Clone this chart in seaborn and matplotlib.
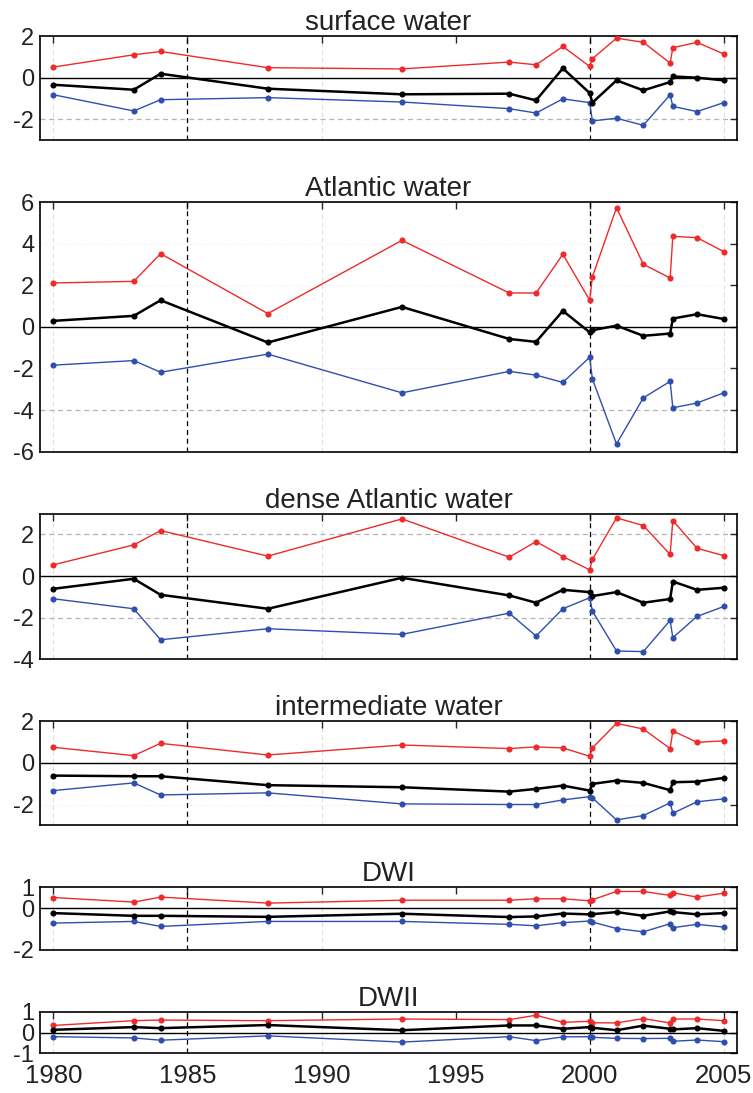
import numpy as np
import pandas as pd
import matplotlib
matplotlib.use("Agg")
import matplotlib.pyplot as plt
import seaborn as sns

# 観測年 (2000年と2003年は2回ずつ)
YEARS = [1980, 1983, 1984, 1988, 1993, 1997, 1998, 1999, 2000, 2000.1,
         2001, 2002, 2003, 2003.1, 2004, 2005]

TITLES = ["surface water", "Atlantic water", "dense Atlantic water",
          "intermediate water", "DWI", "DWII"]
YLIMS = [(-3, 2), (-6, 6), (-4, 3), (-3, 2), (-2, 1), (-1, 1)]
YTICKS = [[-2, 0, 2], [-6, -4, -2, 0, 2, 4, 6], [-4, -2, 0, 2], [-2, 0, 2], [-2, 0, 1], [-1, 0, 1]]
REF_LINES = [[-2], [-4], [-2, 2], [], [], []]

# 上側 (赤)
UPPER = [
    [0.51, 1.10, 1.26, 0.48, 0.42, 0.75, 0.62, 1.50, 0.54, 0.91, 1.90, 1.70, 0.70, 1.44, 1.70, 1.14],
    [2.11, 2.19, 3.52, 0.64, 4.16, 1.63, 1.63, 3.49, 1.28, 2.40, 5.73, 3.01, 2.35, 4.35, 4.29, 3.62],
    [0.54, 1.50, 2.19, 0.96, 2.75, 0.91, 1.66, 0.94, 0.30, 0.80, 2.80, 2.43, 1.04, 2.67, 1.34, 0.98],
    [0.75, 0.35, 0.94, 0.38, 0.86, 0.69, 0.77, 0.72, 0.32, 0.72, 1.90, 1.63, 0.69, 1.54, 0.99, 1.06],
    [0.51, 0.29, 0.53, 0.24, 0.38, 0.38, 0.45, 0.45, 0.35, 0.40, 0.80, 0.80, 0.61, 0.74, 0.53, 0.72],
    [0.34, 0.57, 0.60, 0.57, 0.65, 0.62, 0.83, 0.49, 0.54, 0.47, 0.46, 0.67, 0.46, 0.65, 0.65, 0.57],
]
# 平均 (黒)
MEAN = [
    [-0.34, -0.58, 0.19, -0.53, -0.80, -0.77, -1.09, 0.45, -0.74, -1.20, -0.13, -0.61, -0.21, 0.06, 0.00, -0.13],
    [0.29, 0.53, 1.28, -0.75, 0.96, -0.58, -0.72, 0.77, -0.26, -0.16, 0.06, -0.43, -0.32, 0.40, 0.61, 0.38],
    [-0.61, -0.13, -0.90, -1.57, -0.08, -0.93, -1.28, -0.66, -0.77, -0.96, -0.77, -1.28, -1.10, -0.26, -0.66, -0.56],
    [-0.61, -0.64, -0.64, -1.07, -1.17, -1.38, -1.25, -1.09, -1.33, -1.01, -0.85, -0.96, -1.31, -0.93, -0.90, -0.72],
    [-0.24, -0.37, -0.37, -0.42, -0.27, -0.43, -0.40, -0.26, -0.30, -0.29, -0.19, -0.37, -0.16, -0.19, -0.30, -0.24],
    [0.13, 0.26, 0.21, 0.36, 0.11, 0.34, 0.34, 0.18, 0.26, 0.23, 0.11, 0.33, 0.18, 0.15, 0.21, 0.08],
]
# 下側 (青)
LOWER = [
    [-0.82, -1.60, -1.06, -0.96, -1.17, -1.49, -1.70, -1.02, -1.20, -2.08, -1.95, -2.29, -0.82, -1.38, -1.63, -1.20],
    [-1.84, -1.62, -2.18, -1.31, -3.17, -2.14, -2.32, -2.67, -1.46, -2.50, -5.63, -3.41, -2.62, -3.89, -3.66, -3.17],
    [-1.09, -1.57, -3.06, -2.53, -2.80, -1.78, -2.88, -1.57, -1.04, -1.68, -3.60, -3.63, -2.13, -2.96, -1.94, -1.46],
    [-1.33, -0.96, -1.54, -1.44, -1.97, -2.00, -2.00, -1.78, -1.62, -1.68, -2.74, -2.53, -1.92, -2.42, -1.87, -1.73],
    [-0.72, -0.64, -0.88, -0.64, -0.64, -0.78, -0.85, -0.70, -0.62, -0.67, -0.98, -1.14, -0.75, -0.94, -0.78, -0.91],
    [-0.20, -0.26, -0.37, -0.16, -0.46, -0.20, -0.39, -0.21, -0.20, -0.23, -0.28, -0.29, -0.28, -0.42, -0.36, -0.44],
]

SERIES = [("upper", UPPER, "#ee2a2a", 1.0),
          ("lower", LOWER, "#2f4fae", 1.0),
          ("mean", MEAN, "black", 1.8)]

sns.set_style("white")
plt.rcParams['font.family'] = ['Liberation Sans', 'DejaVu Sans']
plt.rcParams['axes.unicode_minus'] = False

ratios = [hi - lo for lo, hi in YLIMS]
fig, axes = plt.subplots(
    len(TITLES), 1, figsize=(7.53, 10.93), dpi=100,
    gridspec_kw=dict(height_ratios=ratios, hspace=0.526,
                     top=0.967, bottom=0.0363, left=0.053, right=0.979))

for i, ax in enumerate(axes):
    rows = []
    for name, vals, _, _ in SERIES:
        for yr, v in zip(YEARS, vals[i]):
            rows.append({"year": yr, "value": v, "series": name})
    df = pd.DataFrame(rows)

    # 背景の線
    for gx in [1980, 1990, 2005]:
        ax.axvline(gx, color="#dddddd", lw=0.8, ls=(0, (4, 3)), zorder=0)
    for gy in YTICKS[i]:
        if gy not in REF_LINES[i] and gy != 0:
            ax.axhline(gy, color="#eeeeee", lw=0.8, ls=(0, (1, 2)), zorder=0)
    for ry in REF_LINES[i]:
        ax.axhline(ry, color="#b4b4b4", lw=0.9, ls=(0, (4, 3)), zorder=0.5)
    ax.axhline(0, color="black", lw=1.0, zorder=1)
    for vx in [1985, 2000]:
        ax.axvline(vx, color="black", lw=0.9, ls=(0, (4, 3)), zorder=1)

    for name, _, color, lw in SERIES:
        sns.lineplot(data=df[df["series"] == name], x="year", y="value",
                     color=color, linewidth=lw, marker="o", markersize=4.4,
                     markeredgewidth=0, sort=False, ax=ax, zorder=3)

    ax.set_xlim(1979.5, 2005.5)
    ax.set_ylim(*YLIMS[i])
    ax.set_xticks([1980, 1985, 1990, 1995, 2000, 2005])
    ax.set_yticks(YTICKS[i])
    ax.set_xlabel("")
    ax.set_ylabel("")
    ax.set_title(TITLES[i], fontsize=20, color="#222222", pad=4)
    ax.tick_params(direction="in", length=5, width=1.0, top=True, right=True,
                   labelcolor="#222222", pad=4)
    ax.tick_params(axis="y", labelsize=17)
    ax.tick_params(axis="x", labelsize=18.5)
    if i < len(TITLES) - 1:
        ax.tick_params(labelbottom=False)
    else:
        ax.tick_params(axis="x", pad=8)
    for sp in ax.spines.values():
        sp.set_visible(True)
        sp.set_color("black")
        sp.set_linewidth(1.2)

fig.savefig("out.png", dpi=100)
